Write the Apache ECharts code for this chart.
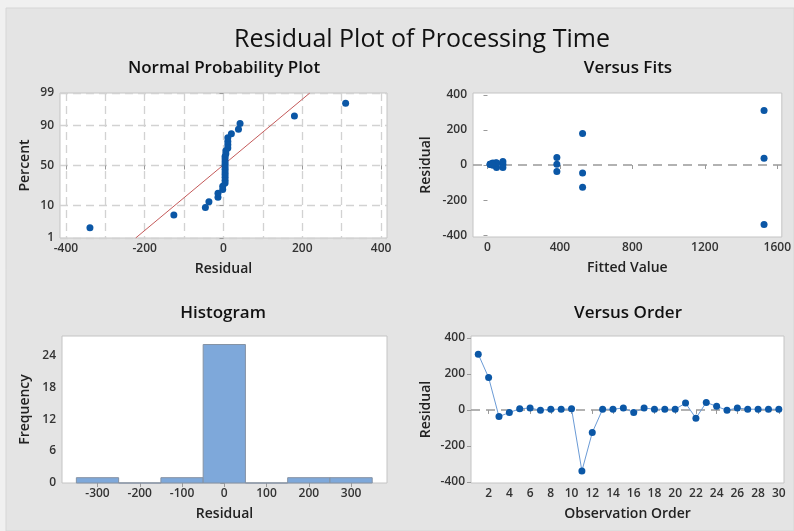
<!DOCTYPE html>
<html><head><meta charset="utf-8">
<script src="https://cdn.jsdelivr.net/npm/echarts@6/dist/echarts.min.js"></script>
<style>html,body{margin:0;padding:0;background:#f0f0f0}#c{width:794px;height:531px}</style>
</head><body><div id="c"></div>
<script>
// ---------- data ----------
const chartTitle = 'Residual Plot of Processing Time';
const panelTitles = ['Normal Probability Plot', 'Versus Fits', 'Histogram', 'Versus Order'];
const observationOrder = [1,2,3,4,5,6,7,8,9,10,11,12,13,14,15,16,17,18,19,20,21,22,23,24,25,26,27,28,29,30];
const residuals = [310,180,-37,-14,6,11,-2,4,4,6,-339,-126,4,4,11,-14,11,4,4,4,38,-46,42,20,-2,11,4,4,4,4];
const fittedValues = [1527,525,383,85,45,50,30,15,20,25,1527,525,383,85,45,50,30,15,20,25,1527,525,383,85,45,50,30,15,20,25];
const histBinCenters = [-300,-200,-100,0,100,200,300];
const histBinWidth = 100;
const histCounts = [1,0,1,26,0,1,1];
const fitLineMean = -2;
const fitLineSD = 95;
const probTickPercents = [1,10,50,90,99];
const probXGridTicks = [-400,-300,-200,-100,0,100,200,300,400];
const probXLabelTicks = [-400,-200,0,200,400];
const fitsXTicks = [0,400,800,1200,1600];
const residualTicks = [-400,-200,0,200,400];
const freqTicks = [0,6,12,18,24];
const histXTicks = [-300,-200,-100,0,100,200,300];
const orderXTicks = [2,4,6,8,10,12,14,16,18,20,22,24,26,28,30];

// ---------- helpers ----------
function invNorm(p){ // Acklam
  const a=[-39.69683028665376,220.9460984245205,-275.9285104469687,138.3577518672690,-30.66479806614716,2.506628277459239];
  const b=[-54.47609879822406,161.5858368580409,-155.6989798598866,66.80131188771972,-13.28068155288572];
  const c=[-0.007784894002430293,-0.3223964580411365,-2.400758277161838,-2.549732539343734,4.374664141464968,2.938163982698783];
  const d=[0.007784695709041462,0.3224671290700398,2.445134137142996,3.754408661907416];
  const pl=0.02425, ph=1-pl; let q,r;
  if(p<pl){q=Math.sqrt(-2*Math.log(p));return (((((c[0]*q+c[1])*q+c[2])*q+c[3])*q+c[4])*q+c[5])/((((d[0]*q+d[1])*q+d[2])*q+d[3])*q+1);}
  if(p<=ph){q=p-0.5;r=q*q;return (((((a[0]*r+a[1])*r+a[2])*r+a[3])*r+a[4])*r+a[5])*q/(((((b[0]*r+b[1])*r+b[2])*r+b[3])*r+b[4])*r+1);}
  q=Math.sqrt(-2*Math.log(1-p));return -(((((c[0]*q+c[1])*q+c[2])*q+c[3])*q+c[4])*q+c[5])/((((d[0]*q+d[1])*q+d[2])*q+d[3])*q+1);
}
const n = residuals.length;
const sortedRes = residuals.slice().sort((a,b)=>a-b);
const probPoints = sortedRes.map((r,i)=>[r, invNorm((i+1-0.3)/(n+0.4))]);
const zTicks = probTickPercents.map(p=>invNorm(p/100));
const zMin = zTicks[0], zMax = zTicks[zTicks.length-1];
const fitLine = [[fitLineMean+fitLineSD*zMin, zMin],[fitLineMean+fitLineSD*zMax, zMax]];
const histData = histBinCenters.map((c,i)=>[c-histBinWidth/2, c+histBinWidth/2, histCounts[i]]);

// ---------- styles ----------
const FONT = 'Open Sans';
const dotColor = '#0b57a6';
const plainNum = v => String(Math.round(v*1000)/1000);
const labelStyle = {color:'#333', fontSize:12, fontWeight:600, fontFamily:FONT, formatter:plainNum};
const nameStyle = {color:'#222', fontSize:14, fontWeight:600, fontFamily:FONT};
const tickStyle = {show:true, length:4, lineStyle:{color:'#9a9a9a'}};
const gridBase = {show:true, backgroundColor:'#fff', borderColor:'#c4c4c4', borderWidth:1, containLabel:false};
function xAx(gi, min, max, labels, name, gap, extra){
  return Object.assign({type:'value', gridIndex:gi, min, max, name, nameLocation:'middle', nameGap:gap,
    nameTextStyle:nameStyle, axisLine:{show:false}, axisTick:Object.assign({customValues:labels}, tickStyle),
    axisLabel:Object.assign({customValues:labels, margin:5}, labelStyle), splitLine:{show:false}}, extra||{});
}
function yAx(gi, min, max, labels, name, gap, extra){
  return Object.assign({type:'value', gridIndex:gi, min, max, name, nameLocation:'middle', nameGap:gap,
    nameTextStyle:nameStyle, axisLine:{show:false}, axisTick:Object.assign({customValues:labels}, tickStyle),
    axisLabel:Object.assign({customValues:labels, margin:6}, labelStyle), splitLine:{show:false}}, extra||{});
}
const dashGrid = {show:true, lineStyle:{color:'#d2d2d2', type:[8,5], width:1.3}};
const zeroLine = {silent:true, symbol:'none', label:{show:false}, lineStyle:{color:'#999999', type:[9,6], width:1.5},
  data:[{yAxis:0}], animation:false, z:1};
const titleStyle = (t, sz, w) => ({text:t, textAlign:'center', textVerticalAlign:'middle', fontSize:sz, fontWeight:w, fontFamily:FONT, fill:'#111'});

const option = {
  animation:false,
  backgroundColor:'transparent',
  graphic:[
    {type:'rect', shape:{x:6,y:8,width:788,height:523}, style:{fill:'#e4e4e4', stroke:'#d6d6d6'}, z:-10},
    {type:'text', x:422, y:40, style:titleStyle(chartTitle, 25, 'normal')},
    {type:'text', x:224, y:68, style:titleStyle(panelTitles[0], 17, 600)},
    {type:'text', x:628, y:68, style:titleStyle(panelTitles[1], 17, 600)},
    {type:'text', x:223, y:313, style:titleStyle(panelTitles[2], 17, 600)},
    {type:'text', x:628, y:313, style:titleStyle(panelTitles[3], 17, 600)}
  ],
  grid:[
    Object.assign({left:60, top:93, width:327, height:145}, gridBase),
    Object.assign({left:473, top:93, width:311, height:144}, gridBase),
    Object.assign({left:62, top:336, width:325, height:147}, gridBase),
    Object.assign({left:471, top:336, width:313, height:147}, gridBase)
  ],
  xAxis:[
    xAx(0, -415, 415, probXGridTicks, 'Residual', 24, {
      axisLabel:Object.assign({}, labelStyle, {customValues:probXLabelTicks, margin:5}), splitLine:dashGrid}),
    xAx(1, -80, 1625, fitsXTicks, 'Fitted Value', 24),
    xAx(2, -384, 385, histXTicks, 'Residual', 24),
    xAx(3, 0.3, 30.5, orderXTicks, 'Observation Order', 24)
  ],
  yAxis:[
    yAx(0, zMin, zMax, zTicks, 'Percent', 28, {
      axisLabel:Object.assign({}, labelStyle, {customValues:zTicks, margin:6,
        formatter:(v)=>{let bi=0;zTicks.forEach((z,i)=>{if(Math.abs(z-v)<Math.abs(zTicks[bi]-v))bi=i;});return String(probTickPercents[bi]);}}),
      splitLine:dashGrid}),
    yAx(1, -410, 410, residualTicks, 'Residual', 40),
    yAx(2, 0, 27.6, freqTicks, 'Frequency', 30),
    yAx(3, -406, 411, residualTicks, 'Residual', 38)
  ],
  series:[
    {type:'line', xAxisIndex:0, yAxisIndex:0, data:fitLine, symbol:'none', lineStyle:{color:'#c45a5a', width:1}, z:2},
    {type:'scatter', xAxisIndex:0, yAxisIndex:0, data:probPoints, symbolSize:7, itemStyle:{color:dotColor, opacity:1}, z:3},
    {type:'scatter', xAxisIndex:1, yAxisIndex:1, data:fittedValues.map((f,i)=>[f, residuals[i]]), symbolSize:7,
      itemStyle:{color:dotColor, opacity:1}, markLine:zeroLine, z:3},
    {type:'custom', xAxisIndex:2, yAxisIndex:2, data:histData,
      renderItem:(params, api)=>{
        const p0 = api.coord([api.value(0), api.value(2)]);
        const p1 = api.coord([api.value(1), 0]);
        return {type:'rect', shape:{x:p0[0], y:p0[1], width:p1[0]-p0[0], height:p1[1]-p0[1]},
          style:{fill:'#7ea8da', stroke:'#8592a3', lineWidth:1}};
      }},
    {type:'line', xAxisIndex:3, yAxisIndex:3, data:observationOrder.map((o,i)=>[o, residuals[i]]),
      symbol:'circle', symbolSize:7, showSymbol:true, lineStyle:{color:'#6b9bd6', width:1},
      itemStyle:{color:dotColor, opacity:1}, markLine:zeroLine, z:3}
  ]
};
const chart = echarts.init(document.getElementById('c'), null, {renderer:'canvas'});
chart.setOption(option);
</script></body></html>
